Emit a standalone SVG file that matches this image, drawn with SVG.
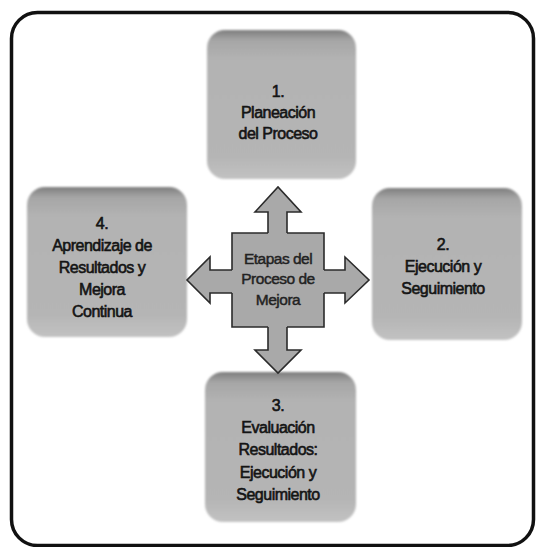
<svg xmlns="http://www.w3.org/2000/svg" width="537" height="547" viewBox="0 0 537 547">
<style>
.box{fill:url(#boxg);}
.lbl{font-family:"Liberation Sans",Arial,sans-serif;font-size:16px;fill:#141414;text-anchor:middle;letter-spacing:-0.5px;stroke:#141414;stroke-width:0.6px;}
.clbl{font-family:"Liberation Sans",Arial,sans-serif;font-size:15.5px;fill:#222;text-anchor:middle;letter-spacing:-0.5px;stroke:#222;stroke-width:0.45px;}
.arr{fill:#a9a9a9;stroke:#2b2b2b;stroke-width:1.6;stroke-linejoin:miter;}
</style>
<defs>
<linearGradient id="boxg" x1="0" y1="0" x2="0" y2="1">
<stop offset="0" stop-color="#7e7e7e"/>
<stop offset="0.07" stop-color="#a6a6a6"/>
<stop offset="0.2" stop-color="#b3b3b3"/>
<stop offset="0.85" stop-color="#b5b5b5"/>
<stop offset="1" stop-color="#c2c2c2"/>
</linearGradient>
<filter id="soft" x="-5%" y="-5%" width="110%" height="110%">
<feGaussianBlur stdDeviation="1.2"/>
</filter>
</defs>
<rect x="0" y="0" width="537" height="547" fill="#ffffff"/>
<rect x="11.5" y="12.5" width="522" height="533" rx="26" fill="#ffffff" stroke="#111" stroke-width="3.5"/>

<g id="node1">
<rect class="box" x="207" y="30" width="149" height="149" rx="18" filter="url(#soft)"/>
<text class="lbl" x="278" y="97">1.</text>
<text class="lbl" x="278" y="118">Planeación</text>
<text class="lbl" x="278" y="139">del Proceso</text>
</g>

<g id="node2">
<rect class="box" x="372" y="188" width="150" height="152" rx="18" filter="url(#soft)"/>
<text class="lbl" x="443" y="250">2.</text>
<text class="lbl" x="443" y="272">Ejecución y</text>
<text class="lbl" x="443" y="294">Seguimiento</text>
</g>

<g id="node3">
<rect class="box" x="205" y="372" width="151" height="150" rx="18" filter="url(#soft)"/>
<text class="lbl" x="278" y="411">3.</text>
<text class="lbl" x="278" y="433">Evaluación</text>
<text class="lbl" x="278" y="455">Resultados:</text>
<text class="lbl" x="278" y="478">Ejecución y</text>
<text class="lbl" x="278" y="500">Seguimiento</text>
</g>

<g id="node4">
<rect class="box" x="27" y="187" width="160" height="150" rx="18" filter="url(#soft)"/>
<text class="lbl" x="102" y="229">4.</text>
<text class="lbl" x="102" y="251">Aprendizaje de</text>
<text class="lbl" x="102" y="273">Resultados y</text>
<text class="lbl" x="102" y="295">Mejora</text>
<text class="lbl" x="102" y="317">Continua</text>
</g>

<g id="connectors">
<polygon class="arr" points="268,238 268,212 255,212 278,187 301,212 287,212 287,238"/>
<polygon class="arr" points="268,322 268,350 255,350 278,373 301,350 287,350 287,322"/>
<polygon class="arr" points="237,270 210,270 210,257 187,280 210,303 210,293 237,293"/>
<polygon class="arr" points="319,270 345,270 345,257 369,280 345,303 345,293 319,293"/>
</g>

<g id="center">
<rect x="232" y="233" width="92" height="94" fill="#a9a9a9"/>
<path d="M268,233 H232 V270 M232,293 V327 H268 M287,327 H324 V293 M324,270 V233 H287" fill="none" stroke="#2b2b2b" stroke-width="1.6"/>
<text class="clbl" x="278" y="264">Etapas del</text>
<text class="clbl" x="278" y="284">Proceso de</text>
<text class="clbl" x="278" y="305">Mejora</text>
</g>
</svg>
